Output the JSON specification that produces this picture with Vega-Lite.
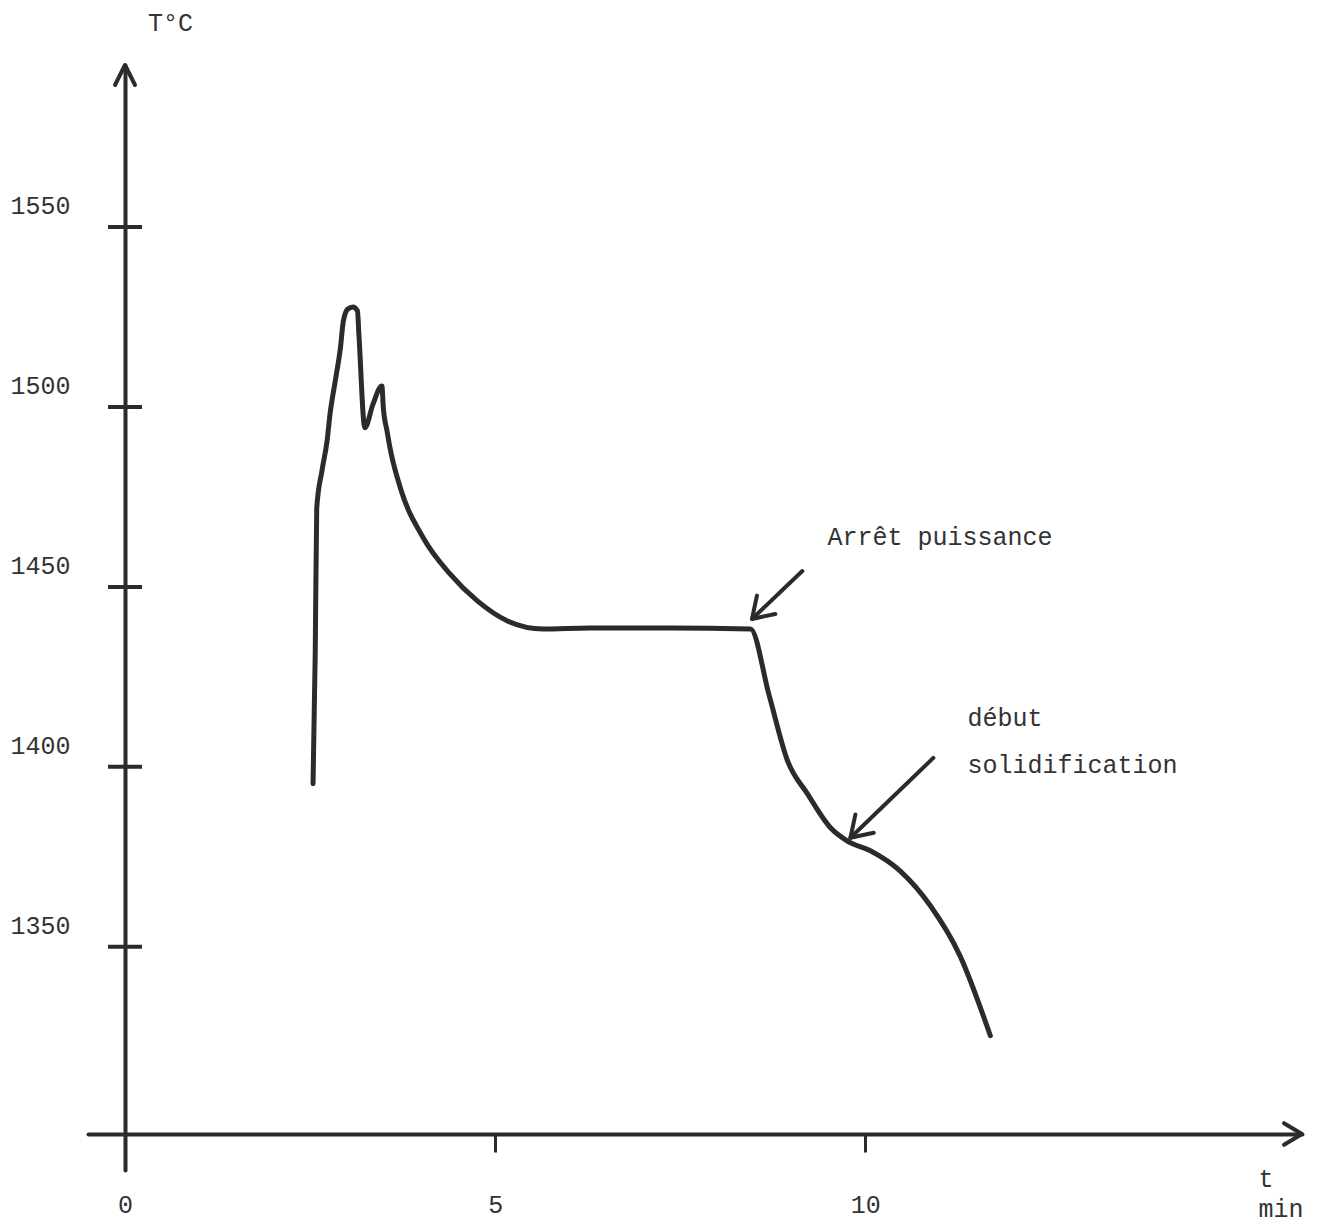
{
  "$schema": "https://vega.github.io/schema/vega-lite/v6.json",
  "width": 1214,
  "height": 1105,
  "autosize": {"type": "none"},
  "padding": {"left": 88, "top": 65, "right": 20, "bottom": 54},
  "background": "white",
  "config": {"view": {"stroke": null}, "font": "Liberation Mono"},
  "datasets": {
    "curve": [
      {"t": 2.54, "T": 1395.3}, {"t": 2.57, "T": 1432.2}, {"t": 2.59, "T": 1471.9}, {"t": 2.66, "T": 1482.2},
      {"t": 2.73, "T": 1490.6}, {"t": 2.77, "T": 1498.1}, {"t": 2.84, "T": 1507.2}, {"t": 2.91, "T": 1516.4},
      {"t": 2.95, "T": 1523.9}, {"t": 3.01, "T": 1527.2}, {"t": 3.08, "T": 1527.8}, {"t": 3.14, "T": 1526.7},
      {"t": 3.16, "T": 1520.0}, {"t": 3.24, "T": 1494.2}, {"t": 3.35, "T": 1500.8},
      {"t": 3.47, "T": 1505.8}, {"t": 3.49, "T": 1499.7}, {"t": 3.54, "T": 1493.3}, {"t": 3.58, "T": 1488.6},
      {"t": 3.72, "T": 1477.5}, {"t": 4.03, "T": 1463.6}, {"t": 4.39, "T": 1453.6}, {"t": 4.76, "T": 1446.1},
      {"t": 5.16, "T": 1440.6}, {"t": 5.65, "T": 1438.3}, {"t": 6.28, "T": 1438.6}, {"t": 7.36, "T": 1438.6},
      {"t": 8.45, "T": 1438.3}, {"t": 8.7, "T": 1420.0}, {"t": 8.95, "T": 1401.7},
      {"t": 9.22, "T": 1392.5}, {"t": 9.53, "T": 1383.1}, {"t": 9.76, "T": 1379.4}, {"t": 10.07, "T": 1376.7},
      {"t": 10.47, "T": 1371.1}, {"t": 10.88, "T": 1361.4}, {"t": 11.28, "T": 1347.5}, {"t": 11.69, "T": 1325.3}
    ],
    "yticks": [
      {"t": 0, "T": 1350}, {"t": 0, "T": 1400}, {"t": 0, "T": 1450}, {"t": 0, "T": 1500}, {"t": 0, "T": 1550}
    ],
    "axisEnds": [
      {"t": 0, "T": 1595, "dir": "up"},
      {"t": 15.9, "T": 1298, "dir": "right"}
    ],
    "arrows": [
      {"t": 9.15, "T": 1454.4, "t2": 8.47, "T2": 1441.1},
      {"t": 10.92, "T": 1402.5, "t2": 9.8, "T2": 1380.3}
    ],
    "notes": [
      {"t": 9.49, "T": 1463.9, "label": "Arrêt puissance"},
      {"t": 11.38, "T": 1413.6, "label": "début"},
      {"t": 11.38, "T": 1400.6, "label": "solidification"}
    ]
  },
  "encoding": {
    "x": {
      "field": "t", "type": "quantitative",
      "scale": {"domain": [-0.5, 15.9], "nice": false, "zero": false},
      "axis": {
        "values": [0, 5, 10], "format": "d", "title": ["t", "min"], "offset": -36, "grid": false,
        "domainWidth": 4, "domainColor": "#2b2b2b", "domainCap": "round",
        "tickWidth": 3, "tickSize": 18, "tickColor": "#2b2b2b",
        "labelPadding": 40, "labelFontSize": 25, "labelFont": "Liberation Mono", "labelColor": "#333333", "labelFlush": false,
        "titleX": 1170, "titleY": 32, "titleAlign": "left", "titleBaseline": "top", "titleAnchor": null,
        "titleFontWeight": "normal", "titleFontSize": 25, "titleFont": "Liberation Mono", "titleColor": "#333333", "titleLineHeight": 30
      }
    },
    "y": {
      "field": "T", "type": "quantitative",
      "scale": {"domain": [1288, 1595], "nice": false, "zero": false},
      "axis": {
        "values": [1350, 1400, 1450, 1500, 1550], "format": "d", "title": "T°C", "offset": -37, "grid": false,
        "ticks": false, "tickSize": 0,
        "domainWidth": 4, "domainColor": "#2b2b2b", "domainCap": "round",
        "labelPadding": 55, "labelOffset": -21, "labelFontSize": 25, "labelFont": "Liberation Mono", "labelColor": "#333333",
        "titleAngle": 0, "titleX": 45, "titleY": -43, "titleAlign": "center", "titleBaseline": "middle",
        "titleFontWeight": "normal", "titleFontSize": 25, "titleFont": "Liberation Mono", "titleColor": "#333333"
      }
    }
  },
  "layer": [
    {
      "data": {"name": "yticks"},
      "mark": {"type": "tick", "orient": "horizontal", "size": 34, "thickness": 4, "color": "#2b2b2b", "opacity": 1}
    },
    {
      "data": {"name": "axisEnds"},
      "transform": [{"filter": "datum.dir === 'up'"}],
      "mark": {"type": "point", "shape": "M -0.5 1 L 0 0 L 0.5 1", "size": 1600, "filled": false, "stroke": "#2b2b2b", "strokeWidth": 4, "strokeCap": "round", "strokeJoin": "round", "opacity": 1}
    },
    {
      "data": {"name": "axisEnds"},
      "transform": [{"filter": "datum.dir === 'right'"}],
      "mark": {"type": "point", "shape": "M -1 -0.6 L 0 0 L -1 0.6", "size": 1296, "filled": false, "stroke": "#2b2b2b", "strokeWidth": 4, "strokeCap": "round", "strokeJoin": "round", "opacity": 1}
    },
    {
      "data": {"name": "curve"},
      "mark": {"type": "line", "interpolate": "monotone", "color": "#2b2b2b", "strokeWidth": 5, "strokeCap": "round", "strokeJoin": "round"}
    },
    {
      "data": {"name": "arrows"},
      "mark": {"type": "rule", "color": "#2b2b2b", "strokeWidth": 4, "strokeCap": "round"},
      "encoding": {"x2": {"field": "t2"}, "y2": {"field": "T2"}}
    },
    {
      "data": {"name": "arrows"},
      "mark": {"type": "point", "shape": "M -0.65 1 L 0 0 L 0.65 1", "size": 1600, "angle": 225, "filled": false, "stroke": "#2b2b2b", "strokeWidth": 4, "strokeCap": "round", "strokeJoin": "round", "opacity": 1},
      "encoding": {"x": {"field": "t2", "type": "quantitative"}, "y": {"field": "T2", "type": "quantitative"}}
    },
    {
      "data": {"name": "notes"},
      "mark": {"type": "text", "align": "left", "baseline": "middle", "fontSize": 25, "font": "Liberation Mono", "color": "#333333"},
      "encoding": {"text": {"field": "label"}}
    }
  ]
}
